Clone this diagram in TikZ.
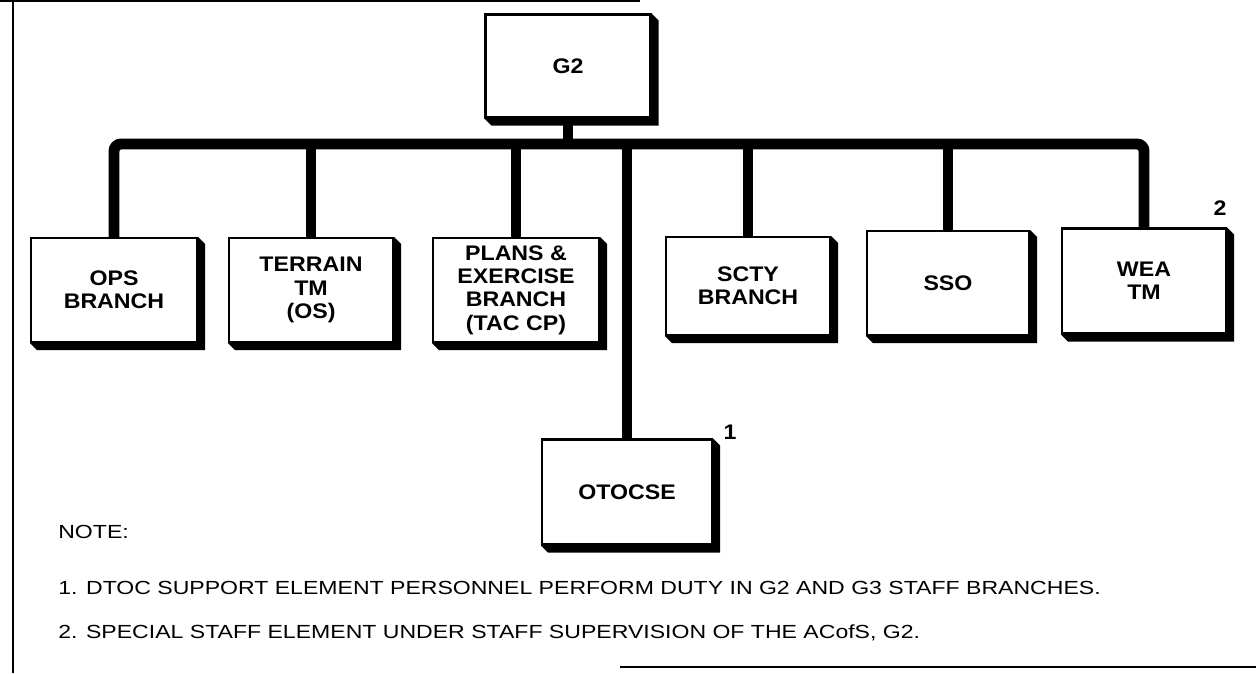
\documentclass[tikz,border=0pt]{standalone}
\usepackage{fontspec}
\usetikzlibrary{calc}
\newfontfamily\boxfam[FakeStretch=1.1]{Liberation Sans}
\newfontfamily\notefam[FakeStretch=1.215]{Liberation Sans}
\newcommand\boxshade[1]{\fill (#1.north east) -- ++(7,7) -- ($(#1.south east)+(7,7)$) -- ($(#1.south west)+(7,7)$) -- (#1.south west) -- (#1.south east) -- cycle;}
\begin{document}
\begin{tikzpicture}[x=0.02cm,y=-0.02cm,
  unit/.style 2 args={draw, line width=1.2pt, fill=white, inner sep=0pt,
    minimum width=#1*0.02cm, minimum height=#2*0.02cm, align=center,
    font=\boxfam\bfseries\fontsize{12}{13.3}\selectfont},
  bus/.style={line width=6.2pt, line cap=butt},
  frame/.style={line width=1.2pt},
  notetext/.style={anchor=west, inner sep=0pt, font=\notefam\fontsize{10.8}{13}\selectfont},
  footmark/.style={inner sep=0pt, font=\boxfam\bfseries\fontsize{12}{13}\selectfont}]
\useasboundingbox (0,0) rectangle (1256,673);
% frame
\coordinate (ftl) at (0,1);
\coordinate (ftr) at (640,1);
\coordinate (flt) at (13,0);
\coordinate (flb) at (13,673);
\coordinate (fbl) at (620,667);
\coordinate (fbr) at (1256,667);
\draw[frame] (ftl) -- (ftr);
\draw[frame] (flt) -- (flb);
\draw[line width=1.5pt] (fbl) -- (fbr);
% boxes
\node[unit={165}{103}] (g2) at (568,66) {G2};
\node[unit={166}{104}] (ops) at (114,290) {OPS\\BRANCH};
\node[unit={164}{104}] (terrain) at (311,290) {TERRAIN\\TM\\(OS)};
\node[unit={166}{104}] (plans) at (516,290) {PLANS \&\\EXERCISE\\BRANCH\\(TAC CP)};
\node[unit={164}{98}] (scty) at (748,286) {SCTY\\BRANCH};
\node[unit={162}{104}] (sso) at (948,283) {SSO};
\node[unit={164}{105}] (wea) at (1144,281) {WEA\\TM};
\node[unit={170}{105}] (otocse) at (627,492) {OTOCSE};
% connectors
\coordinate (hub) at (568,144);
\draw[bus, rounded corners=4] (ops.north) |- (hub) -| (wea.north);
\draw[bus] (g2.south) -- (hub);
\draw[bus] (terrain.north) -- (terrain.north |- hub);
\draw[bus] (plans.north) -- (plans.north |- hub);
\draw[bus] (otocse.north) -- (otocse.north |- hub);
\draw[bus] (scty.north) -- (scty.north |- hub);
\draw[bus] (sso.north) -- (sso.north |- hub);
% shadows
\boxshade{g2}
\boxshade{ops}
\boxshade{terrain}
\boxshade{plans}
\boxshade{scty}
\boxshade{sso}
\boxshade{wea}
\boxshade{otocse}
% footnote marks
\node[footmark] (m1) at (730,432) {1};
\node[footmark] (m2) at (1220,208) {2};
% notes
\node[notetext] (note) at (58,532) {NOTE:};
\node[notetext] (n1) at (58,588) {1. DTOC SUPPORT ELEMENT PERSONNEL PERFORM DUTY IN G2 AND G3 STAFF BRANCHES.};
\node[notetext] (n2) at (58,633) {2. SPECIAL STAFF ELEMENT UNDER STAFF SUPERVISION OF THE ACofS, G2.};
\end{tikzpicture}
\end{document}
